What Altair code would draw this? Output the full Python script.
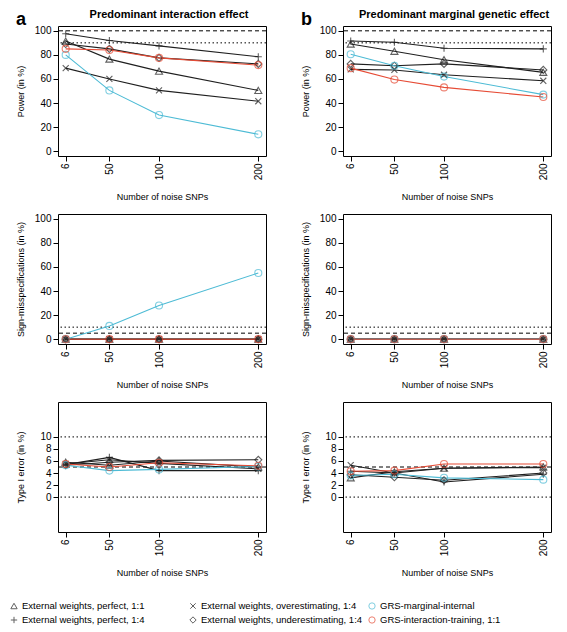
import altair as alt
import pandas as pd

# ---------------- data ----------------
x_values = [6, 50, 100, 200]

series_names = [
    "External weights, perfect, 1:1",
    "External weights, perfect, 1:4",
    "External weights, overestimating, 1:4",
    "External weights, underestimating, 1:4",
    "GRS-marginal-internal",
    "GRS-interaction-training, 1:1",
]
series_colors = ["#1f1f1f", "#1f1f1f", "#1f1f1f", "#1f1f1f", "#4DBBD5", "#E64B35"]
series_shapes = ["triangle-up", "M-1,0L1,0M0,-1L0,1", "M-0.85,-0.85L0.85,0.85M-0.85,0.85L0.85,-0.85",
                 "diamond", "circle", "circle"]
legend_column = [0, 0, 1, 1, 2, 2]
legend_row = [0, 1, 0, 1, 0, 1]

# Power (in %) - predominant interaction effect
power_a_tri = [91.5, 76.5, 66.5, 50.5]
power_a_plus = [97.5, 92.0, 87.5, 78.5]
power_a_x = [69.0, 60.0, 50.5, 41.5]
power_a_dia = [89.0, 85.0, 77.5, 72.5]
power_a_blue = [80.0, 50.5, 30.0, 14.0]
power_a_red = [85.0, 84.0, 77.5, 71.5]

# Power (in %) - predominant marginal genetic effect
power_b_tri = [89.0, 83.0, 76.0, 65.5]
power_b_plus = [91.5, 90.5, 85.5, 85.0]
power_b_x = [68.0, 67.5, 63.5, 58.5]
power_b_dia = [72.5, 71.0, 72.5, 67.5]
power_b_blue = [80.5, 71.0, 62.0, 47.0]
power_b_red = [69.0, 59.5, 53.0, 45.0]

# Sign-misspecifications (in %)
sign_a_tri = [0, 0, 0, 0]
sign_a_plus = [0, 0, 0, 0]
sign_a_x = [0, 0, 0, 0]
sign_a_dia = [0, 0, 0, 0]
sign_a_blue = [0.0, 11.0, 28.0, 55.0]
sign_a_red = [0, 0, 0, 0]

sign_b_tri = [0, 0, 0, 0]
sign_b_plus = [0, 0, 0, 0]
sign_b_x = [0, 0, 0, 0]
sign_b_dia = [0, 0, 0, 0]
sign_b_blue = [0, 0, 0, 0]
sign_b_red = [0, 0, 0, 0]

# Type I error (in %)
type1_a_tri = [5.8, 5.3, 6.0, 5.0]
type1_a_plus = [5.4, 6.6, 4.4, 4.4]
type1_a_x = [5.5, 6.2, 5.6, 4.7]
type1_a_dia = [5.3, 5.8, 6.1, 6.2]
type1_a_blue = [5.3, 4.4, 4.6, 5.1]
type1_a_red = [5.5, 5.0, 5.7, 5.2]

type1_b_tri = [3.2, 4.2, 4.8, 5.0]
type1_b_plus = [4.3, 4.0, 2.5, 3.8]
type1_b_x = [5.3, 4.0, 4.8, 4.9]
type1_b_dia = [3.7, 3.3, 2.8, 4.0]
type1_b_blue = [3.6, 3.8, 3.2, 2.9]
type1_b_red = [4.3, 4.4, 5.5, 5.5]

power_ticks = [0, 20, 40, 60, 80, 100]
sign_ticks = [0, 20, 40, 60, 80, 100]
type1_ticks = [0, 2, 4, 6, 8, 10]

power_refs = [100, 90]
power_ref_styles = ["dashed", "dotted"]
sign_refs = [10, 5]
sign_ref_styles = ["dotted", "dashed"]
type1_refs = [10, 5, 0]
type1_ref_styles = ["dotted", "dashed", "dotted"]

titles = ["Predominant interaction effect", "Predominant marginal genetic effect"]
letters = ["a", "b"]

FONT = "Liberation Sans"
PW, PH = 208, 130
DASHES = {"dotted": [1.5, 2.5], "dashed": [4, 3]}


def long_frame(series_lists):
    rows = []
    for i, (name, vals) in enumerate(zip(series_names, series_lists)):
        for xv, v in zip(x_values, vals):
            rows.append({"series": name, "snps": xv, "value": v, "k": i})
    return pd.DataFrame(rows)


color_scale = alt.Scale(domain=series_names, range=series_colors)
shape_scale = alt.Scale(domain=series_names, range=series_shapes)


def panel(series_lists, y_domain, y_ticks, y_title, refs, ref_styles, title=None, letter=None):
    df = long_frame(series_lists)
    base = alt.Chart(df)
    x = alt.X("snps:Q",
              scale=alt.Scale(domain=[-1.76, 207.76], nice=False, zero=False),
              axis=alt.Axis(values=x_values, title="Number of noise SNPs", labelAngle=270,
                            titlePadding=13, format="d", labelOverlap=False))
    y_axis = alt.Axis(values=y_ticks, title=y_title, titleX=-33, format="d",
                      labelOverlap=False)
    y_scale = alt.Scale(domain=y_domain, nice=False, zero=False)
    y = alt.Y("value:Q", scale=y_scale, axis=y_axis)
    color = alt.Color("series:N", scale=color_scale, legend=None)
    shape = alt.Shape("series:N", scale=shape_scale, legend=None)

    layers = []
    for val, style in zip(refs, ref_styles):
        layers.append(
            alt.Chart(pd.DataFrame({"value": [val]}))
            .mark_rule(color="black", strokeWidth=1, strokeDash=DASHES[style])
            .encode(y=y)
        )
    lines = base.mark_line(strokeWidth=1.1).encode(x=x, y=y, color=color, order="snps:Q")
    points = base.mark_point(filled=False, size=50, strokeWidth=1.1).encode(
        x=x, y=y, color=color, shape=shape, order="k:Q")
    layers = layers + [lines, points]
    if title is not None:
        layers.append(
            alt.Chart(pd.DataFrame({"t": [title]}))
            .mark_text(font=FONT, fontSize=11, fontWeight="bold", align="center",
                       baseline="alphabetic", color="black")
            .encode(text="t:N", x=alt.value(111), y=alt.value(-8))
        )
    if letter is not None:
        layers.append(
            alt.Chart(pd.DataFrame({"t": [letter]}))
            .mark_text(font=FONT, fontSize=18, fontWeight="bold", align="left",
                       baseline="alphabetic", color="black")
            .encode(text="t:N", x=alt.value(-42), y=alt.value(-1))
        )
    return alt.layer(*layers).properties(width=PW, height=PH)


p_a = panel([power_a_tri, power_a_plus, power_a_x, power_a_dia, power_a_blue, power_a_red],
            [-4, 104], power_ticks, "Power (in %)", power_refs, power_ref_styles,
            titles[0], letters[0])
p_b = panel([power_b_tri, power_b_plus, power_b_x, power_b_dia, power_b_blue, power_b_red],
            [-4, 104], power_ticks, "Power (in %)", power_refs, power_ref_styles,
            titles[1], letters[1])
s_a = panel([sign_a_tri, sign_a_plus, sign_a_x, sign_a_dia, sign_a_blue, sign_a_red],
            [-4, 104], sign_ticks, "Sign-misspecifications (in %)", sign_refs, sign_ref_styles)
s_b = panel([sign_b_tri, sign_b_plus, sign_b_x, sign_b_dia, sign_b_blue, sign_b_red],
            [-4, 104], sign_ticks, "Sign-misspecifications (in %)", sign_refs, sign_ref_styles)
t_a = panel([type1_a_tri, type1_a_plus, type1_a_x, type1_a_dia, type1_a_blue, type1_a_red],
            [-5.8, 15.8], type1_ticks, "Type I error (in %)", type1_refs, type1_ref_styles)
t_b = panel([type1_b_tri, type1_b_plus, type1_b_x, type1_b_dia, type1_b_blue, type1_b_red],
            [-5.8, 15.8], type1_ticks, "Type I error (in %)", type1_refs, type1_ref_styles)

# ---------------- legend ----------------
leg_df = pd.DataFrame({"series": series_names, "col": legend_column, "row": legend_row})
leg_base = alt.Chart(leg_df)
lx = alt.X("col:Q", scale=alt.Scale(domain=[0, 2], range=[-44, 314]), axis=None)
ly = alt.Y("row:Q", scale=alt.Scale(domain=[0, 1], range=[16, 30]), axis=None)
leg_pts = leg_base.mark_point(filled=False, size=40, strokeWidth=1).encode(
    x=lx, y=ly,
    color=alt.Color("series:N", scale=color_scale, legend=None),
    shape=alt.Shape("series:N", scale=shape_scale, legend=None))
leg_txt = leg_base.mark_text(font=FONT, fontSize=9.5, align="left", baseline="middle",
                             dx=8, color="black").encode(x=lx, y=ly, text="series:N")
legend = alt.layer(leg_pts, leg_txt).properties(
    width=PW, height=30, view=alt.ViewBackground(stroke="transparent"))

chart = alt.concat(p_a, p_b, s_a, s_b, t_a, t_b, legend, columns=2,
                   spacing={"row": 58, "column": 77}, bounds="flush").properties(
    padding={"left": 0, "top": 0, "right": 0, "bottom": 0}
).configure(font=FONT).configure_view(
    stroke="black", strokeWidth=1
).configure_axis(
    labelFont=FONT, titleFont=FONT, labelFontSize=10, titleFontSize=9,
    titleFontWeight="normal", labelColor="black", titleColor="black",
    tickColor="black", tickSize=5, tickWidth=1, labelPadding=2,
    domain=False, grid=False, labelOverlap=False
)

chart.save("out.html", embed_options={"renderer": "svg", "actions": False})
